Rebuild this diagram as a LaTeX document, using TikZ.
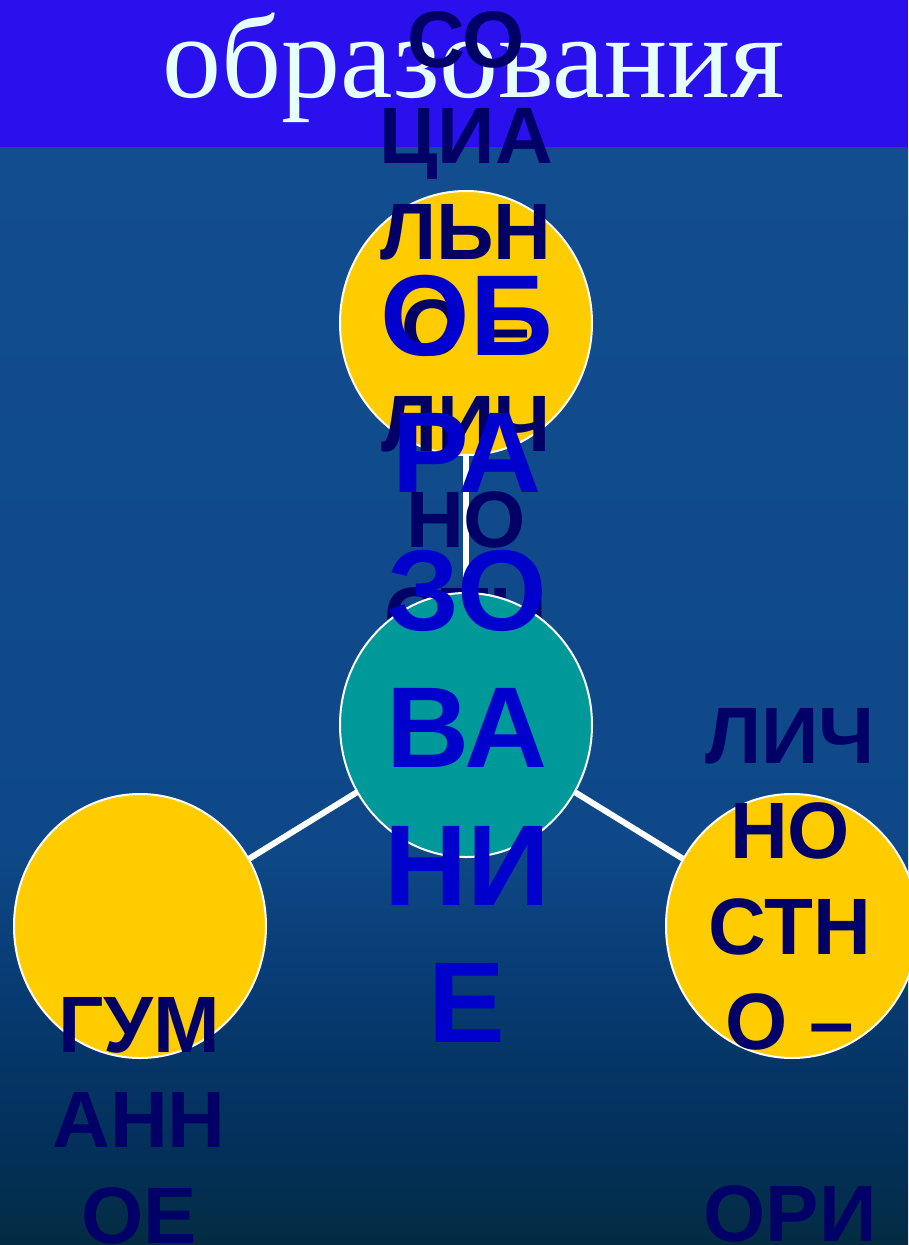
\documentclass[tikz,border=0pt]{standalone}
\usepackage{fontspec}
\setmainfont{Liberation Serif}
\newfontfamily\arialfont{Liberation Sans}
\usetikzlibrary{shapes.geometric}
\definecolor{barc}{HTML}{2B10EE}
\definecolor{titlec}{HTML}{E6FFFF}
\definecolor{yell}{HTML}{FFCC00}
\definecolor{tealc}{HTML}{009999}
\definecolor{navy}{HTML}{000066}
\definecolor{bluet}{HTML}{0000CC}
\definecolor{bgA}{HTML}{124D8F}
\definecolor{bgB}{HTML}{0E4888}
\definecolor{bgC}{HTML}{073A70}
\definecolor{bgD}{HTML}{03305A}
\definecolor{bgE}{HTML}{032C42}
\pgfdeclareverticalshading{bgshade}{100bp}{color(0bp)=(bgE); color(25bp)=(bgE); color(29.3bp)=(bgD); color(36.2bp)=(bgC); color(43bp)=(bgB); color(75bp)=(bgA); color(100bp)=(bgA)}
\tikzset{
  ball/.style={ellipse, draw=white, line width=2pt, minimum width=252pt, minimum height=264pt, inner sep=0pt},
  link/.style={draw=white, line width=6pt},
  navytxt/.style={anchor=base, inner sep=0pt, text=navy, font=\arialfont\bfseries\fontsize{80}{96}\selectfont},
  bluetxt/.style={anchor=base, inner sep=0pt, text=bluet, font=\arialfont\bfseries\fontsize{115}{138}\selectfont},
  titletxt/.style={anchor=base, inner sep=0pt, text=titlec, font=\fontsize{118}{118}\selectfont}
}
\begin{document}
\begin{tikzpicture}[x=1pt,y=-1pt]
\useasboundingbox (0,0) rectangle (908,1245);
% background
\shade[shading=bgshade] (0,147) rectangle (908,1245);
\fill[barc] (0,0) rectangle (908,147);
\node[titletxt] (title) at (474,97) {образования};
% centres
\coordinate (csoc) at (466,323);
\coordinate (cedu) at (466,725);
\coordinate (chum) at (140,926);
\coordinate (clich) at (792,926);
% connectors
\draw[link] (csoc) -- (cedu);
\draw[link] (cedu) -- (chum);
\draw[link] (cedu) -- (clich);
% outer circles
\node[ball, fill=yell] (soc) at (csoc) {};
\node[ball, fill=yell] (hum) at (chum) {};
\node[ball, fill=yell] (lich) at (clich) {};
% top text (partly hidden by the centre circle)
\foreach \t [count=\i from 0] in {СО,ЦИА,ЛЬН,О –,ЛИЧ,НО,СТН}
  \node[navytxt] (soct\i) at (466,{67+96*\i}) {\t};
% centre circle
\node[ball, fill=tealc] (edu) at (cedu) {};
% left text
\foreach \t [count=\i from 0] in {ГУМ,АНН,ОЕ}
  \node[navytxt] (humt\i) at (139,{1052+95.5*\i}) {\t};
% right text
\foreach \t [count=\i from 0] in {ЛИЧ,НО,СТН,О –}
  \node[navytxt] (licht\i) at (790,{763+95.6*\i}) {\t};
\node[navytxt] (licht5) at (790,1241) {ОРИ};
% centre text
\foreach \t [count=\i from 0] in {ОБ,РА,ЗО,ВА,НИ,Е}
  \node[bluetxt] (edut\i) at (467,{355+137.5*\i}) {\t};
\end{tikzpicture}
\end{document}
